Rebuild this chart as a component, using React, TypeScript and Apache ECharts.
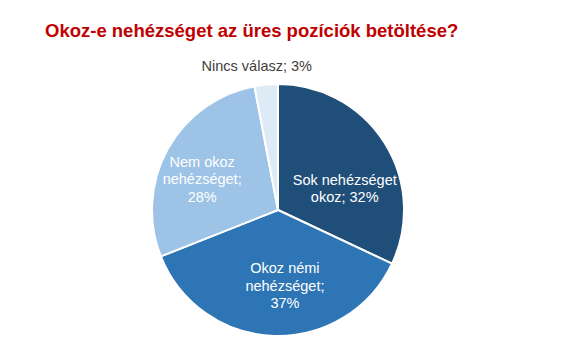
import React, { useEffect, useRef } from "react";
import * as echarts from "echarts";

const categories = ["Sok nehézséget\nokoz", "Okoz némi\nnehézséget;", "Nem okoz\nnehézséget;", "Nincs válasz"];
const values = [32, 37, 28, 3];
const colors = ["#1F4E79", "#2E75B6", "#9DC3E6", "#DEEBF7"];
const labelShifts = [
  [11, 14],
  [9, 10],
  [-18, 1],
  [-15, -78],
];

export default function App() {
  const ref = useRef<HTMLDivElement>(null);
  useEffect(() => {
    document.body.style.margin = "0";
    const chart = echarts.init(ref.current!, null, { renderer: "svg" });
    chart.setOption({
      animation: false,
      title: {
        text: "Okoz-e nehézséget az üres pozíciók betöltése?",
        left: 40,
        top: 16,
        textStyle: {
          color: "#C00000",
          fontWeight: "bold",
          fontSize: 18.5,
          fontFamily: "Liberation Sans, Arial, sans-serif",
        },
      },
      series: [
        {
          type: "pie",
          center: [278, 210],
          radius: [0, 126],
          startAngle: 90,
          clockwise: true,
          itemStyle: { borderColor: "#fff", borderWidth: 2 },
          label: {
            position: "inside",
            color: "#fff",
            fontSize: 14.5,
            lineHeight: 17.5,
            fontFamily: "Liberation Sans, Arial, sans-serif",
            formatter: (p: any) =>
              p.dataIndex === 3 || p.dataIndex === 0 ? `${p.name}; ${p.value}%` : `${p.name}\n${p.value}%`,
          },
          labelLine: { show: false },
          labelLayout: (p: any) => ({ dx: labelShifts[p.dataIndex][0], dy: labelShifts[p.dataIndex][1] }),
          data: categories.map((c, i) => ({
            name: c,
            value: values[i],
            itemStyle: { color: colors[i] },
            label: i === 3 ? { color: "#404040" } : undefined,
          })),
        },
      ],
    });
    return () => chart.dispose();
  }, []);
  return <div ref={ref} style={{ width: 580, height: 353 }} />;
}
